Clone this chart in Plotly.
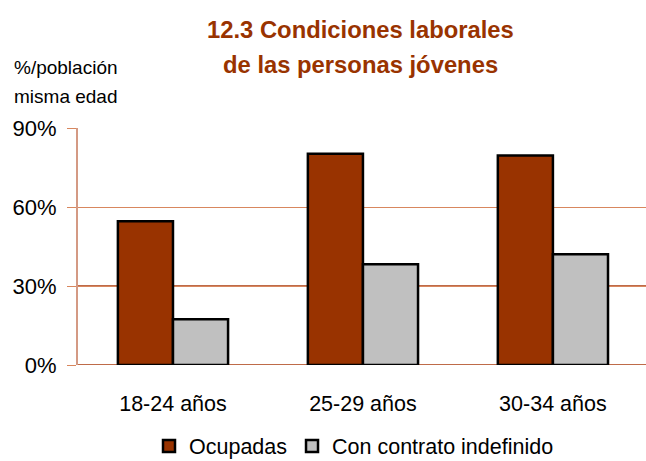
import plotly.graph_objects as go

categories = ["18-24 años", "25-29 años", "30-34 años"]
ocupadas = [54.6, 80.2, 79.6]
contrato = [17.4, 38.3, 42.1]
y_ticks = [0, 30, 60, 90]
y_tick_labels = ["0%", "30%", "60%", "90%"]

FONT = "Liberation Sans Narrow, Arial Narrow, Liberation Sans, Arial, sans-serif"
W, H = 646, 461
L, R, T, B = 78, 0, 128, 96
PW, PH = W - L - R, H - T - B


def px_x(x):
    return (x - L) / PW


def px_y(y):
    return (H - B - y) / PH


fig = go.Figure()
fig.add_trace(go.Bar(name="Ocupadas", x=categories, y=ocupadas,
                     marker=dict(color="#993300", line=dict(color="#000000", width=2.5))))
fig.add_trace(go.Bar(name="Con contrato indefinido", x=categories, y=contrato,
                     marker=dict(color="#C0C0C0", line=dict(color="#000000", width=2.5))))

annots = [
    dict(text="<b>12.3 Condiciones laborales</b>", x=px_x(360), y=px_y(30),
         font=dict(family=FONT, size=23.8, color="#993300"), xanchor="center"),
    dict(text="<b>de las personas jóvenes</b>", x=px_x(360), y=px_y(65),
         font=dict(family=FONT, size=23.8, color="#993300"), xanchor="center"),
    dict(text="%/población", x=px_x(12), y=px_y(67),
         font=dict(family=FONT, size=19, color="#000000"), xanchor="left"),
    dict(text="misma edad", x=px_x(12), y=px_y(96),
         font=dict(family=FONT, size=19, color="#000000"), xanchor="left"),
]
for a in annots:
    a.update(xref="paper", yref="paper", yanchor="middle", showarrow=False)

fig.update_layout(
    width=W, height=H,
    margin=dict(l=L, r=R, t=T, b=B, autoexpand=False),
    paper_bgcolor="white", plot_bgcolor="white",
    barmode="group", bargap=0.42, bargroupgap=0,
    font=dict(family=FONT, size=20, color="#000000"),
    showlegend=True,
    legend=dict(orientation="h", x=px_x(354), xanchor="center",
                yref="container", y=1 - 446 / H, yanchor="middle",
                font=dict(family=FONT, size=21.5), itemwidth=30, traceorder="normal"),
    xaxis=dict(range=[-0.5, 2.49], showgrid=False, ticks="", showline=False,
               automargin=False, ticklabelstandoff=23,
               tickfont=dict(family=FONT, size=21.5)),
    yaxis=dict(range=[0, 90], tickvals=y_ticks, ticktext=y_tick_labels,
               showgrid=True, gridcolor="#D8875E", gridwidth=1.3,
               ticks="outside", ticklen=9, tickcolor="#D8875E",
               showline=True, linecolor="#D49A84", linewidth=2,
               zeroline=False, automargin=False, ticklabelstandoff=6,
               tickfont=dict(family=FONT, size=22)),
    annotations=annots,
)

for v in [0, 30]:
    fig.add_shape(type="line", xref="paper", yref="y", x0=0, x1=1, y0=v, y1=v,
                  line=dict(color="#A83A0C", width=1.5), layer="below")

fig.write_html("out.html", config={"displayModeBar": False},
               post_script="document.body.style.margin='0';document.body.style.padding='0';")
